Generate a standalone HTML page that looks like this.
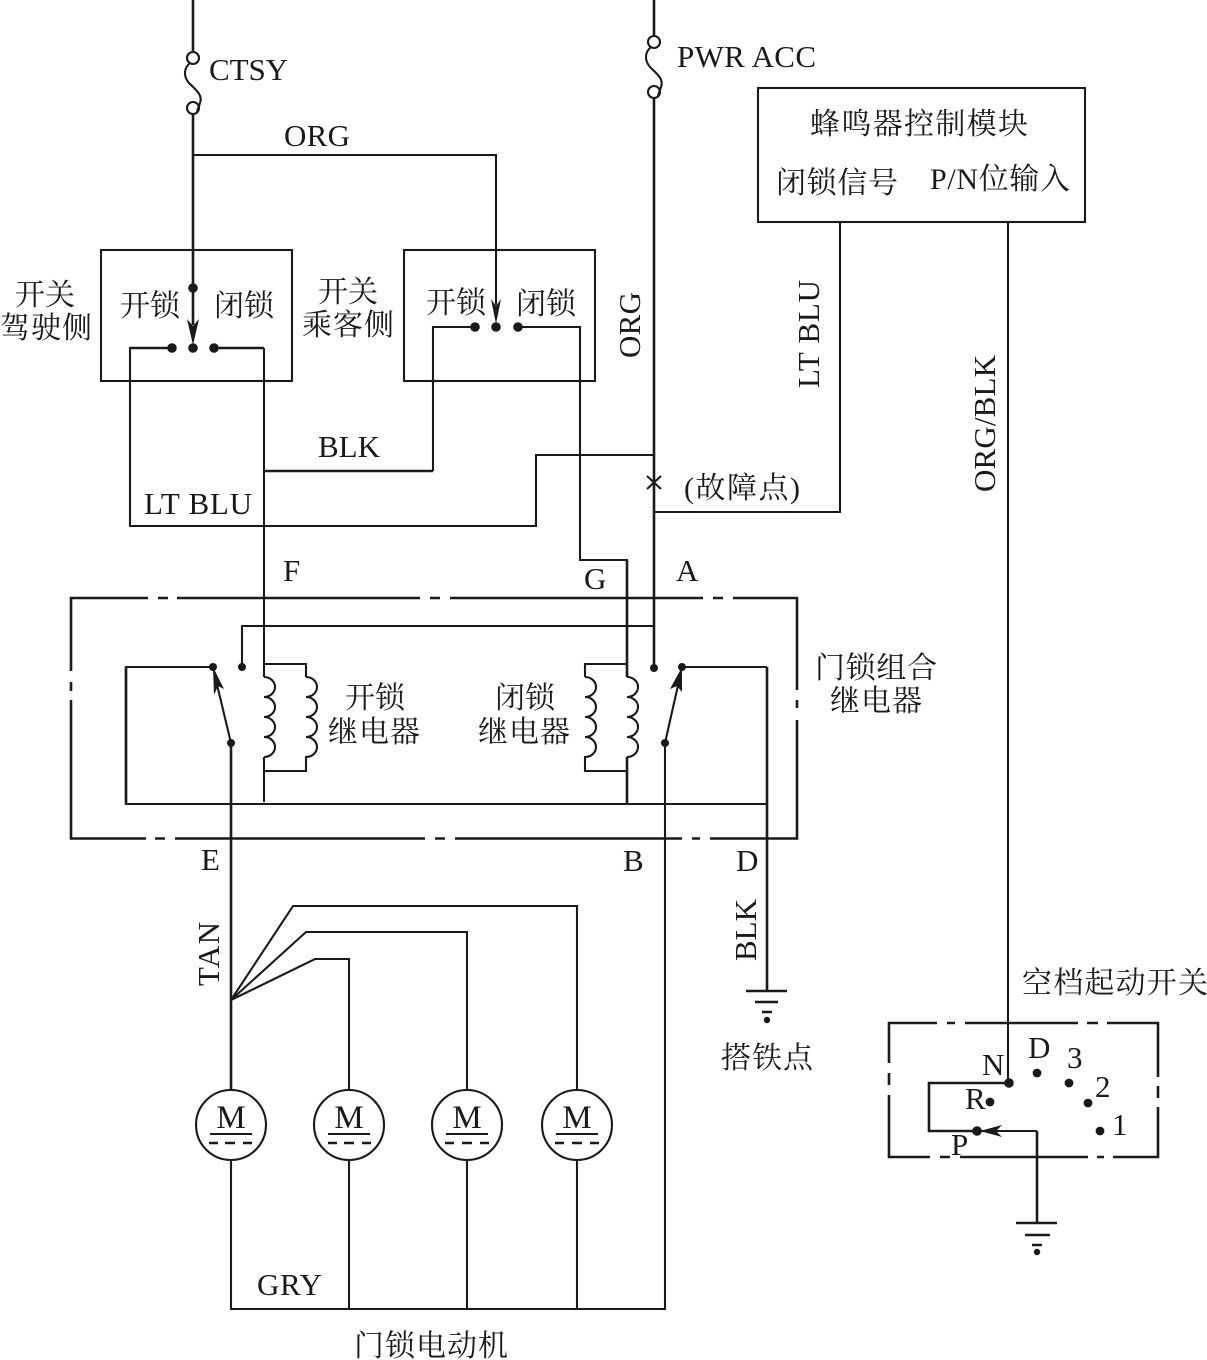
<!DOCTYPE html>
<html>
<head>
<meta charset="utf-8">
<style>
html,body{margin:0;padding:0;background:#fff;width:1207px;height:1360px;overflow:hidden}
svg{display:block}
text{font-family:"Liberation Serif","Noto Serif CJK SC",serif;fill:#1a1a1a}
.c{font-size:30px}
.l{font-size:31px}
.w{fill:none;stroke:#1a1a1a;stroke-width:2.1}
.t{fill:none;stroke:#1a1a1a;stroke-width:2.6}
</style>
</head>
<body>
<svg width="1207" height="1360" viewBox="0 0 1207 1360" xmlns="http://www.w3.org/2000/svg">
<rect width="1207" height="1360" fill="#fff"/>

<!-- CTSY feed and fuse -->
<path class="t" d="M193 0V52M193 114V288"/>
<circle class="w" cx="193" cy="58" r="6"/><circle class="w" cx="193" cy="108" r="6"/>
<path class="w" d="M190 63C184 68 183 76 189 83C196 90 203 95 200 103C199 107 197 110 197 113"/>
<path class="w" d="M193 155H496V305"/>
<!-- PWR feed and fuse -->
<path class="t" d="M654 0V36M654 98V668"/>
<circle class="w" cx="654" cy="42" r="6"/><circle class="w" cx="654" cy="92" r="6"/>
<path class="w" d="M651 47C645 52 644 60 650 67C657 74 664 79 661 87C660 91 658 94 658 97"/>
<path class="w" d="M647 476L661 489M661 476L647 489"/>

<!-- Buzzer module -->
<rect class="w" x="758" y="88" width="327" height="134"/>
<path class="w" d="M840 222V512H654"/>
<path class="w" d="M1008 222V1083"/>

<!-- Switches -->
<rect class="w" x="101" y="250" width="191" height="131"/>
<rect class="w" x="404" y="250" width="191" height="131"/>
<path class="t" d="M193 288V325"/>
<polygon fill="#1a1a1a" points="193,345 187,319 193,326 199,319"/>
<polygon fill="#1a1a1a" points="496,324 491,299 496,306 501,299"/>
<circle cx="193" cy="288" r="4.8" fill="#1a1a1a"/>
<circle cx="172" cy="348" r="4.8" fill="#1a1a1a"/><circle cx="193" cy="348" r="4.8" fill="#1a1a1a"/><circle cx="214" cy="348" r="4.8" fill="#1a1a1a"/>
<circle cx="475" cy="327" r="4.8" fill="#1a1a1a"/><circle cx="496" cy="327" r="4.8" fill="#1a1a1a"/><circle cx="518" cy="327" r="4.8" fill="#1a1a1a"/>
<path class="w" d="M172 348H130V526H536V455H654"/>
<path class="t" d="M172 348H130M214 348H264"/>
<path class="w" d="M264 348V677M264 757V802"/>
<path class="t" d="M264 471H433"/>
<path class="w" d="M433 471V327H475M518 327H580V560H627V677"/>
<path class="t" d="M627 560V677M627 757V804"/>

<!-- Relay outline -->
<path class="t" d="M148 598H71V671M158 598H168M177 598H420M430 598H440M450 598H703M713 598H723M733 598H797V690M797 700V708M797 720V838.5H710M692 838.5H700M682 838.5H455M435 838.5H445M425 838.5H175M155 838.5H165M146 838.5H71V700M71 682V691"/>

<!-- Relay internals -->
<path class="w" d="M213 667H126V804H767"/>
<path class="t" d="M126 667V804"/>
<path class="w" d="M242 667V626H654"/>
<path class="w" d="M682 667H767"/>
<path class="t" d="M767 667V990"/>
<!-- Coils -->
<path class="w" d="M264 664H306V677"/>
<path class="w" d="M264 677a11 10 0 0 1 0 20a11 10 0 0 1 0 20a11 10 0 0 1 0 20a11 10 0 0 1 0 20"/>
<path class="w" d="M306 677a11 10 0 0 1 0 20a11 10 0 0 1 0 20a11 10 0 0 1 0 20a11 10 0 0 1 0 20V771H264"/>
<path class="w" d="M627 664H585V677"/>
<path class="w" d="M585 677a11 10 0 0 1 0 20a11 10 0 0 1 0 20a11 10 0 0 1 0 20a11 10 0 0 1 0 20V771H627"/>
<path class="w" d="M627 677a11 10 0 0 1 0 20a11 10 0 0 1 0 20a11 10 0 0 1 0 20a11 10 0 0 1 0 20"/>
<!-- Relay contacts -->
<path class="w" d="M231 743L214 672"/>
<polygon fill="#1a1a1a" points="213,667 224,689 218,686 214,695"/>
<path class="w" d="M665 743L681 672"/>
<polygon fill="#1a1a1a" points="682,667 682,692 677,686 670,689"/>
<circle cx="213" cy="667" r="4" fill="#1a1a1a"/><circle cx="242" cy="667" r="4" fill="#1a1a1a"/>
<circle cx="231" cy="743" r="4" fill="#1a1a1a"/><circle cx="654" cy="668" r="4" fill="#1a1a1a"/>
<circle cx="682" cy="667" r="4" fill="#1a1a1a"/><circle cx="665" cy="743" r="4" fill="#1a1a1a"/>

<!-- Motor wiring -->
<path class="t" d="M231 743V1090"/>
<path class="w" d="M665 743V1309H231V1160"/>
<path class="w" d="M231 1000L293 906H577V1090"/>
<path class="w" d="M231 1000L306 932H467V1090"/>
<path class="w" d="M231 1000L315 959H349V1090"/>
<path class="w" d="M349 1160V1309M467 1160V1309M577 1160V1309"/>

<!-- Motors -->
<g id="motors">
<circle class="w" cx="231" cy="1125" r="35"/>
<path class="w" d="M210 1134H252"/><path class="t" d="M209 1143H218M225 1143H235M243 1143H252"/>
<text x="231" y="1128" font-size="33" text-anchor="middle">M</text>
<circle class="w" cx="349" cy="1125" r="35"/>
<path class="w" d="M328 1134H370"/><path class="t" d="M328 1143H337M344 1143H354M362 1143H371"/>
<text x="349" y="1128" font-size="33" text-anchor="middle">M</text>
<circle class="w" cx="467" cy="1125" r="35"/>
<path class="w" d="M446 1134H488"/><path class="t" d="M445 1143H454M462 1143H472M480 1143H489"/>
<text x="467" y="1128" font-size="33" text-anchor="middle">M</text>
<circle class="w" cx="577" cy="1125" r="35"/>
<path class="w" d="M556 1134H598"/><path class="t" d="M555 1143H564M572 1143H582M590 1143H599"/>
<text x="577" y="1128" font-size="33" text-anchor="middle">M</text>
</g>

<!-- Ground 1 -->
<path class="t" d="M746 991H787M755 1002H778M762 1012H772"/>
<circle cx="767" cy="1020" r="3.2" fill="#1a1a1a"/>

<!-- Neutral start switch -->
<path class="t" d="M937 1023H889V1063M889 1073V1085M889 1095V1157H930M940 1157H950M960 1157H1088M1097 1157H1104M1113 1157H1158V1107M1158 1086V1098M1158 1077V1023H1107M1087 1023H1098M1078 1023H965M947 1023H955"/>
<path class="t" d="M1009 1083H929V1131H977"/>
<path class="w" d="M980 1131H1037"/>
<path class="t" d="M1037 1131V1223"/>
<polygon fill="#1a1a1a" points="980,1131 1002,1125 996,1131 1002,1137"/>
<circle cx="1009" cy="1083" r="4.8" fill="#1a1a1a"/>
<circle cx="990" cy="1102" r="4.4" fill="#1a1a1a"/>
<circle cx="977" cy="1131" r="4.8" fill="#1a1a1a"/>
<circle cx="1037" cy="1073" r="4.4" fill="#1a1a1a"/>
<circle cx="1069" cy="1083" r="4.4" fill="#1a1a1a"/>
<circle cx="1088" cy="1103" r="4.4" fill="#1a1a1a"/>
<circle cx="1100" cy="1131" r="4.4" fill="#1a1a1a"/>
<path class="t" d="M1016 1223H1057M1025 1235H1050M1032 1245H1042"/>
<circle cx="1037" cy="1252" r="3.2" fill="#1a1a1a"/>

<!-- Latin labels -->
<text class="l" x="209" y="80" textLength="79">CTSY</text>
<text class="l" x="677" y="67" textLength="139">PWR ACC</text>
<text class="l" x="284" y="146" textLength="66">ORG</text>
<text class="l" x="318" y="457" textLength="62">BLK</text>
<text class="l" x="144" y="514" textLength="108">LT BLU</text>
<text class="l" x="283" y="581">F</text>
<text class="l" x="584" y="589">G</text>
<text class="l" x="676" y="581">A</text>
<text class="l" x="201" y="870">E</text>
<text class="l" x="623" y="871">B</text>
<text class="l" x="736" y="871">D</text>
<text class="l" x="257" y="1295" textLength="65">GRY</text>
<text class="l" transform="translate(640 358) rotate(-90)" textLength="66">ORG</text>
<text class="l" transform="translate(819 388) rotate(-90)" textLength="108">LT BLU</text>
<text class="l" transform="translate(995 492) rotate(-90)" textLength="137">ORG/BLK</text>
<text class="l" transform="translate(219 986) rotate(-90)" textLength="64">TAN</text>
<text class="l" transform="translate(756 961) rotate(-90)" textLength="62">BLK</text>
<text class="l" x="982" y="1075">N</text>
<text class="l" x="1028" y="1058">D</text>
<text class="l" x="1067" y="1068">3</text>
<text class="l" x="1095" y="1097">2</text>
<text class="l" x="1112" y="1135">1</text>
<text class="l" x="965" y="1109">R</text>
<text class="l" x="951" y="1155">P</text>

<!-- CJK labels -->
<text class="c" x="810" y="134" textLength="218">蜂鸣器控制模块</text>
<text class="c" x="776" y="193" textLength="122">闭锁信号</text>
<text class="c" x="930" y="189" textLength="140">P/N位输入</text>
<text class="c" x="15" y="305" textLength="60">开关</text>
<text class="c" x="0" y="338" textLength="92">驾驶侧</text>
<text class="c" x="120" y="316" textLength="60">开锁</text>
<text class="c" x="214" y="316" textLength="60">闭锁</text>
<text class="c" x="318" y="302" textLength="60">开关</text>
<text class="c" x="302" y="335" textLength="92">乘客侧</text>
<text class="c" x="426" y="313" textLength="60">开锁</text>
<text class="c" x="516" y="314" textLength="60">闭锁</text>
<text class="c" x="684" y="498" textLength="116">(故障点)</text>
<text class="c" x="815" y="678" textLength="122">门锁组合</text>
<text class="c" x="830" y="711" textLength="92">继电器</text>
<text class="c" x="345" y="708" textLength="60">开锁</text>
<text class="c" x="328" y="742" textLength="92">继电器</text>
<text class="c" x="495" y="708" textLength="60">闭锁</text>
<text class="c" x="478" y="742" textLength="92">继电器</text>
<text class="c" x="1022" y="993" textLength="186">空档起动开关</text>
<text class="c" x="721" y="1068" textLength="92">搭铁点</text>
<text class="c" x="354" y="1356" textLength="154">门锁电动机</text>
</svg>
</body>
</html>
